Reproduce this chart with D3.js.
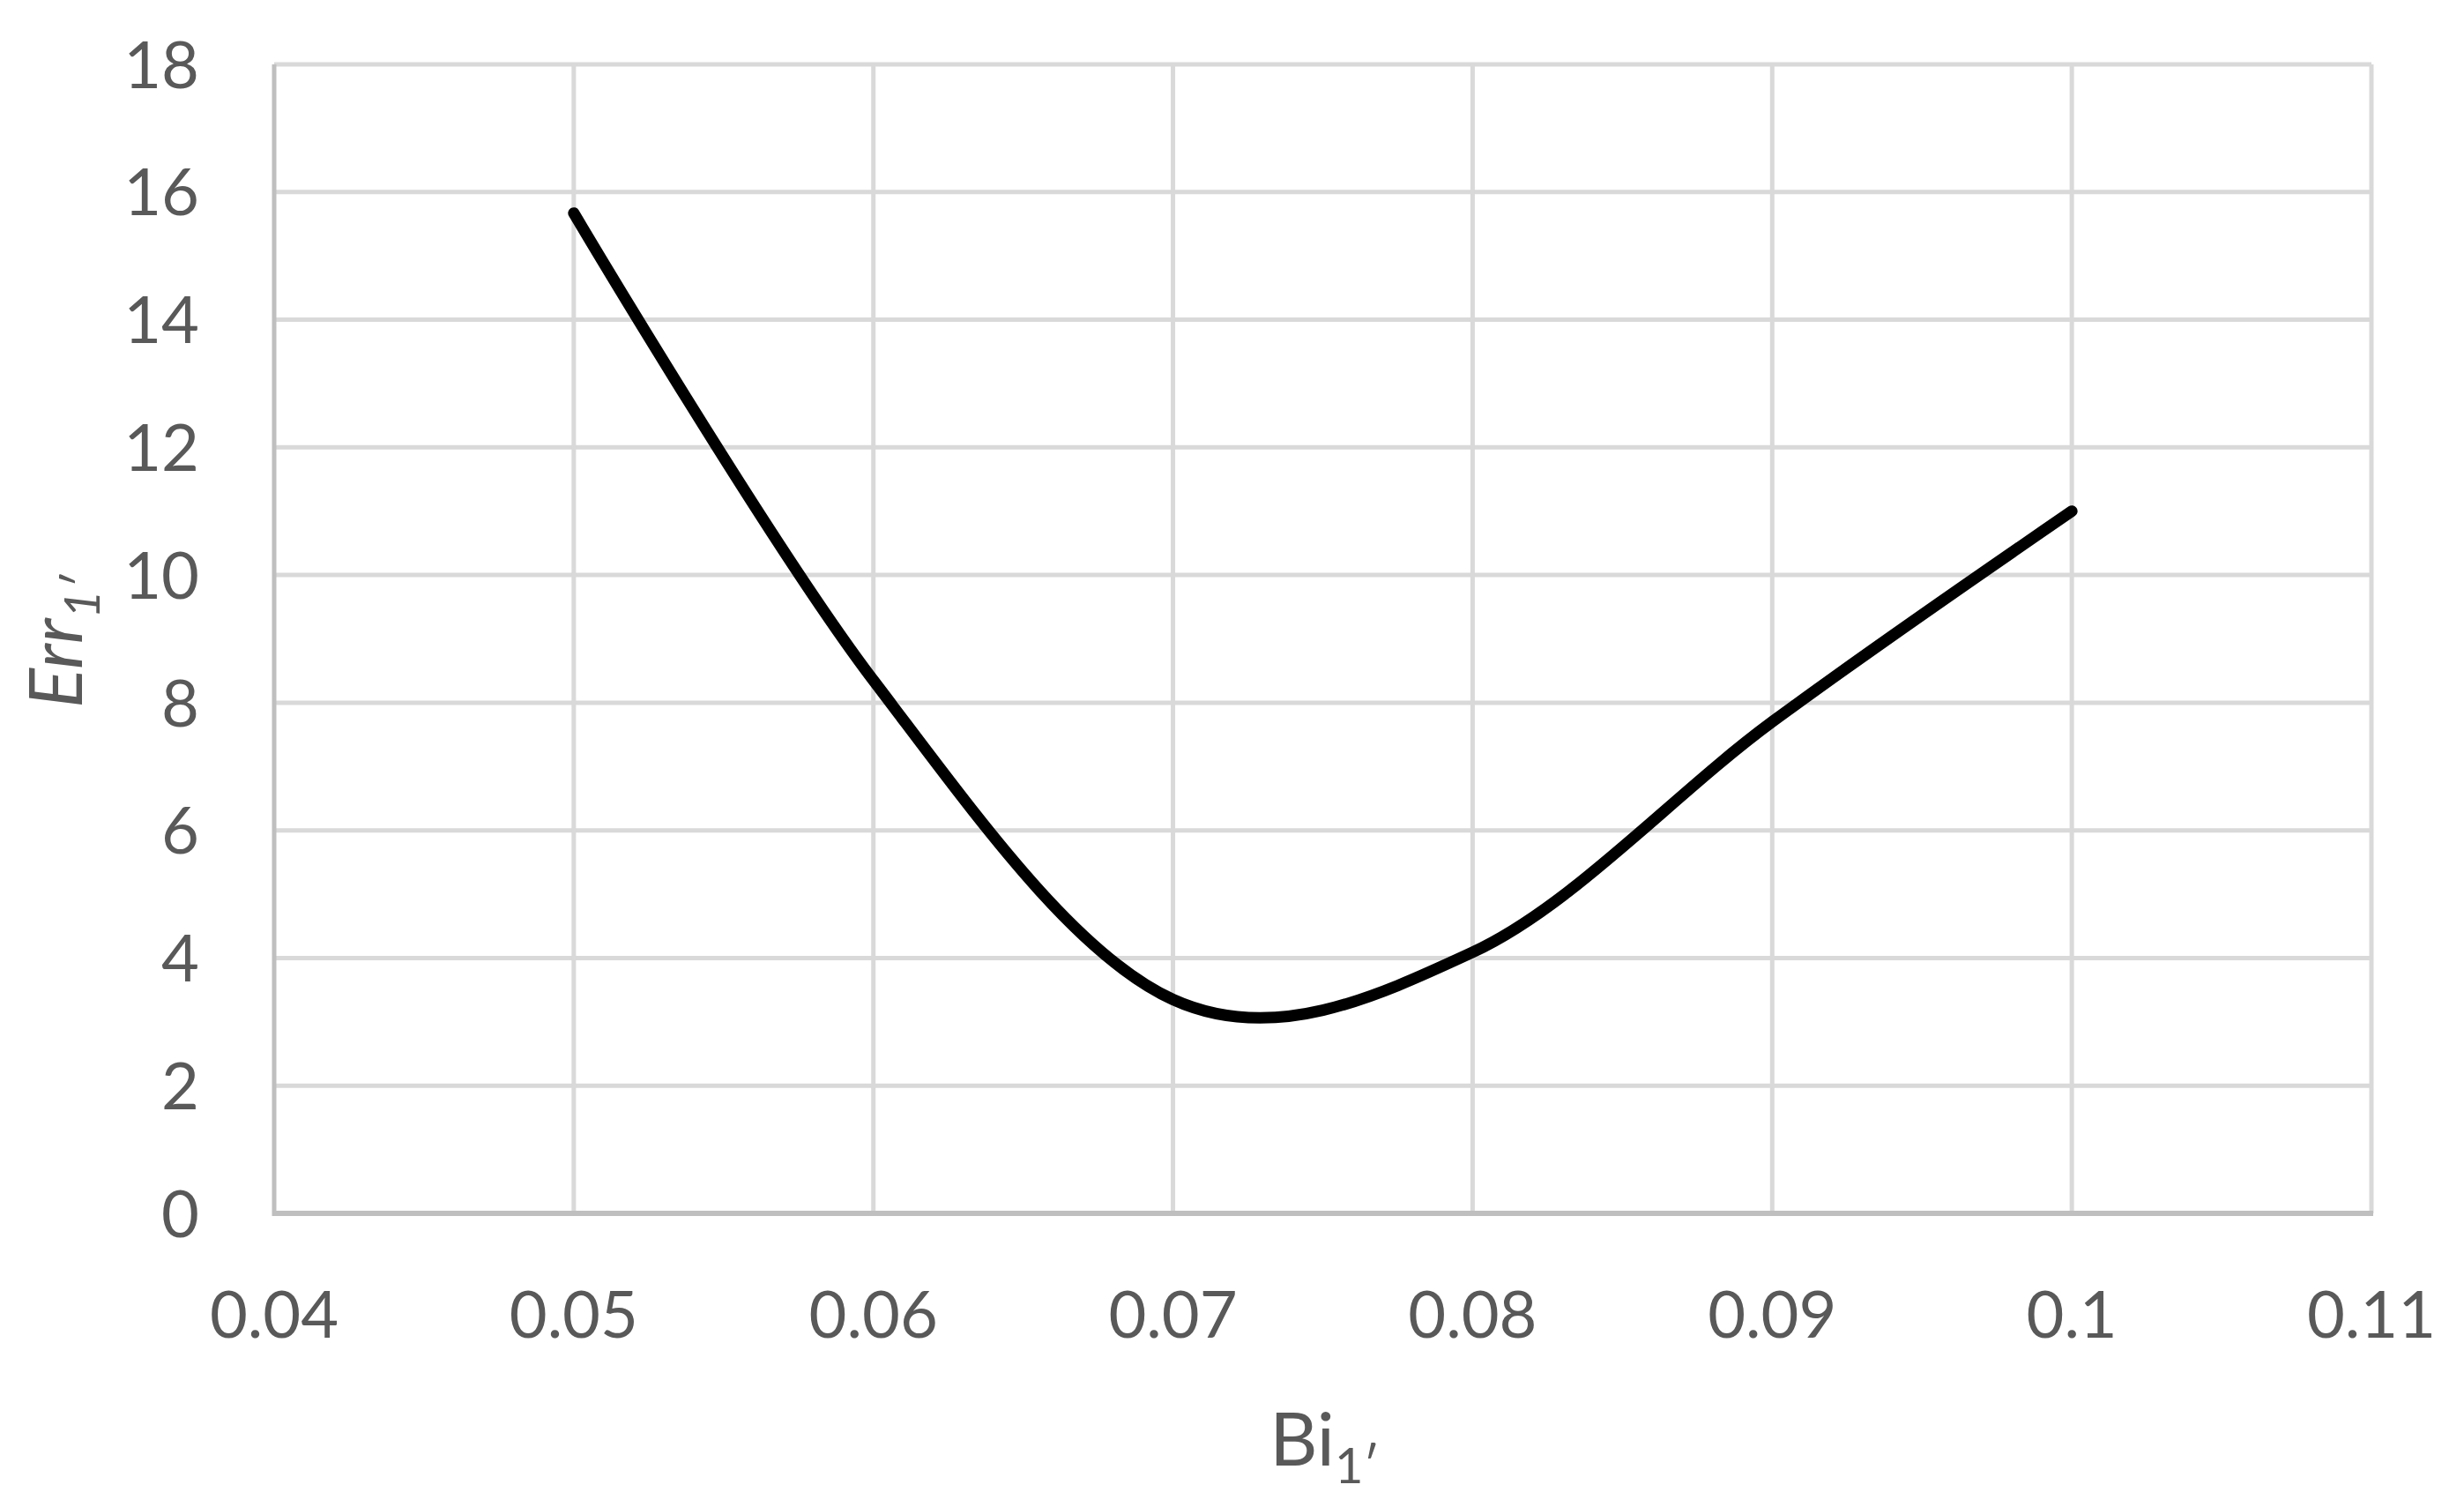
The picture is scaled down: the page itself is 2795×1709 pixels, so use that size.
<!DOCTYPE html>
<html>
<head>
<meta charset="utf-8">
<script src="https://cdn.jsdelivr.net/npm/d3@7"></script>
<style>
  html, body { margin: 0; padding: 0; background: #ffffff; }
  svg { display: block; }
</style>
</head>
<body>
<svg id="chart" width="2795" height="1709"></svg>
<script>
// ---- data ----
const biValues = [0.05, 0.06, 0.07, 0.08, 0.09, 0.1];
const errValues = [15.67, 8.35, 3.35, 4.09, 7.70, 11.0];
const xTicks = [0.04, 0.05, 0.06, 0.07, 0.08, 0.09, 0.1, 0.11];
const xTickLabels = ["0.04", "0.05", "0.06", "0.07", "0.08", "0.09", "0.1", "0.11"];
const yTicks = [0, 2, 4, 6, 8, 10, 12, 14, 16, 18];
const yTickLabels = ["0", "2", "4", "6", "8", "10", "12", "14", "16", "18"];

// ---- layout ----
const W = 2795, H = 1709;
const plot = { left: 311, right: 2690, top: 73, bottom: 1376 };
const textColor = "#595959";
const gridColor = "#d9d9d9";
const axisColor = "#bfbfbf";
const fontFamily = "Lato, 'Open Sans', 'Liberation Sans', sans-serif";

const svg = d3.select("#chart");

const x = d3.scaleLinear().domain([0.04, 0.11]).range([plot.left, plot.right]);
const y = d3.scaleLinear().domain([0, 18]).range([plot.bottom, plot.top]);

// gridlines
const grid = svg.append("g");
grid.selectAll("line.h").data(yTicks.filter(d => d !== 0)).join("line")
  .attr("class", "h")
  .attr("x1", plot.left).attr("x2", plot.right)
  .attr("y1", d => y(d)).attr("y2", d => y(d))
  .attr("stroke", gridColor).attr("stroke-width", 5);
grid.selectAll("line.v").data(xTicks.filter(d => d !== 0.04)).join("line")
  .attr("class", "v")
  .attr("x1", d => x(d)).attr("x2", d => x(d))
  .attr("y1", plot.top).attr("y2", plot.bottom)
  .attr("stroke", gridColor).attr("stroke-width", 5);

// axis lines
svg.append("line")
  .attr("x1", x(0.04)).attr("x2", x(0.04))
  .attr("y1", plot.top).attr("y2", plot.bottom + 3)
  .attr("stroke", axisColor).attr("stroke-width", 5);
svg.append("line")
  .attr("x1", plot.left - 2).attr("x2", plot.right + 2)
  .attr("y1", y(0)).attr("y2", y(0))
  .attr("stroke", axisColor).attr("stroke-width", 6);

// y tick labels
svg.append("g").selectAll("text").data(yTicks).join("text")
  .attr("x", 226)
  .attr("y", d => y(d))
  .attr("dy", "0.36em")
  .attr("text-anchor", "end")
  .attr("font-family", fontFamily)
  .attr("font-size", 74)
  .attr("fill", textColor)
  .text((d, i) => yTickLabels[i]);

// x tick labels
svg.append("g").selectAll("text").data(xTicks).join("text")
  .attr("x", d => x(d))
  .attr("y", 1517)
  .attr("text-anchor", "middle")
  .attr("font-family", fontFamily)
  .attr("font-size", 74)
  .attr("fill", textColor)
  .text((d, i) => xTickLabels[i]);

// x title
const xt = svg.append("text")
  .attr("x", (plot.left + plot.right) / 2 + 2)
  .attr("y", 1662)
  .attr("text-anchor", "middle")
  .attr("font-family", fontFamily)
  .attr("font-size", 84)
  .attr("fill", textColor);
xt.append("tspan").text("Bi");
xt.append("tspan").attr("font-size", 56).attr("dy", 20).text("1′");

// y title
const yt = svg.append("text")
  .attr("transform", `translate(93, ${(plot.top + plot.bottom) / 2 + 3}) rotate(-90)`)
  .attr("text-anchor", "middle")
  .attr("font-family", fontFamily)
  .attr("font-size", 84)
  .attr("font-style", "italic")
  .attr("fill", textColor);
yt.append("tspan").text("Err");
yt.append("tspan").attr("font-size", 56).attr("dy", 20).text("1′");

// curve
const pts = biValues.map((b, i) => [b, errValues[i]]);
const line = d3.line()
  .x(d => x(d[0]))
  .y(d => y(d[1]))
  .curve(d3.curveCardinal.tension(0));
svg.append("path")
  .datum(pts)
  .attr("d", line)
  .attr("fill", "none")
  .attr("stroke", "#000000")
  .attr("stroke-width", 13)
  .attr("stroke-linecap", "round")
  .attr("stroke-linejoin", "round");
</script>
</body>
</html>
